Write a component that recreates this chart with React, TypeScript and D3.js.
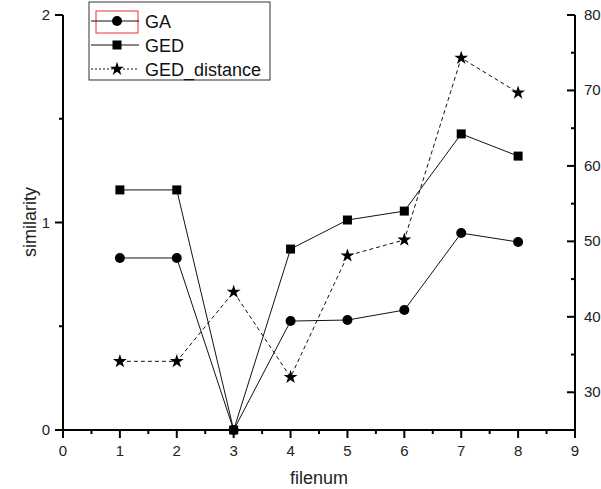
import React from "react";
import * as d3 from "d3";

const fileNums = [1, 2, 3, 4, 5, 6, 7, 8];
const gaValues = [0.829, 0.829, 0, 0.525, 0.53, 0.578, 0.949, 0.906];
const gedValues = [1.157, 1.157, 0, 0.872, 1.012, 1.055, 1.427, 1.32];
const gedDistanceValues = [34.1, 34.1, 43.3, 32.0, 48.1, 50.2, 74.3, 69.7];
const xTicks = [0, 1, 2, 3, 4, 5, 6, 7, 8, 9];
const leftTicks = [0, 1, 2];
const rightTicks = [30, 40, 50, 60, 70, 80];
const legendLabels = ["GA", "GED", "GED_distance"];

const W = 601;
const H = 489;
const FONT = "Arial, 'Liberation Sans', sans-serif";

export default function App() {
  const x = d3.scaleLinear().domain([0, 9]).range([63, 575]);
  const yL = d3.scaleLinear().domain([0, 2]).range([430, 15]);
  const yR = d3.scaleLinear().domain([25, 80]).range([430, 15]);

  const lineL = d3
    .line<number>()
    .x((_, i) => x(fileNums[i]))
    .y((d) => yL(d));
  const lineR = d3
    .line<number>()
    .x((_, i) => x(fileNums[i]))
    .y((d) => yR(d));

  const starPath = d3.symbol().type(d3.symbolStar).size(60)() as string;
  const xMinor = d3.range(0.5, 9, 1);
  const leftMinor = [0.5, 1.5];
  const rightMinor = [35, 45, 55, 65, 75];

  const circle = (cx: number, cy: number, k: string) => (
    <circle key={k} cx={cx} cy={cy} r={5} fill="#000" />
  );
  const square = (cx: number, cy: number, k: string) => (
    <rect key={k} x={cx - 4.5} y={cy - 4.5} width={9} height={9} fill="#000" />
  );
  const star = (cx: number, cy: number, k: string) => (
    <path key={k} d={starPath} transform={`translate(${cx},${cy})`} fill="#000" />
  );

  const legendRowsY = [21, 45, 69];

  return (
    <div style={{ position: "fixed", left: 0, top: 0 }}>
      <svg width={W} height={H} style={{ display: "block", background: "#fff" }} fontFamily={FONT}>
        <rect x={0} y={0} width={W} height={H} fill="#fff" />
        {/* axes lines */}
        <line x1={63} x2={63} y1={15} y2={430} stroke="#000" strokeWidth={2} />
        <line x1={575} x2={575} y1={15} y2={430} stroke="#000" strokeWidth={2} />
        <line x1={63} x2={575} y1={430} y2={430} stroke="#000" strokeWidth={2} />

        {/* x ticks */}
        {xTicks.map((t) => (
          <g key={"xt" + t}>
            <line x1={x(t)} x2={x(t)} y1={430} y2={438} stroke="#000" strokeWidth={2} />
            <text x={x(t)} y={456} fontSize={15} textAnchor="middle" fill="#222">
              {t}
            </text>
          </g>
        ))}
        {xMinor.map((t) => (
          <line key={"xm" + t} x1={x(t)} x2={x(t)} y1={430} y2={434} stroke="#000" strokeWidth={2} />
        ))}

        {/* left ticks */}
        {leftTicks.map((t) => (
          <g key={"lt" + t}>
            <line x1={55} x2={63} y1={yL(t)} y2={yL(t)} stroke="#000" strokeWidth={2} />
            <text x={50} y={yL(t) + 5} fontSize={15} textAnchor="end" fill="#222">
              {t}
            </text>
          </g>
        ))}
        {leftMinor.map((t) => (
          <line key={"lm" + t} x1={59} x2={63} y1={yL(t)} y2={yL(t)} stroke="#000" strokeWidth={2} />
        ))}

        {/* right ticks */}
        {rightTicks.map((t) => (
          <g key={"rt" + t}>
            <line x1={567} x2={575} y1={yR(t)} y2={yR(t)} stroke="#000" strokeWidth={2} />
            <text x={584} y={yR(t) + 5} fontSize={15} textAnchor="start" fill="#222">
              {t}
            </text>
          </g>
        ))}
        {rightMinor.map((t) => (
          <line key={"rm" + t} x1={571} x2={575} y1={yR(t)} y2={yR(t)} stroke="#000" strokeWidth={2} />
        ))}

        {/* axis titles */}
        <text x={319} y={484} fontSize={18} textAnchor="middle" fill="#222">
          filenum
        </text>
        <text
          transform={`translate(36,222) rotate(-90)`}
          fontSize={18}
          textAnchor="middle"
          fill="#222"
        >
          similarity
        </text>

        {/* series lines */}
        <path d={lineL(gaValues) as string} fill="none" stroke="#111" strokeWidth={1} />
        <path d={lineL(gedValues) as string} fill="none" stroke="#111" strokeWidth={1} />
        <path
          d={lineR(gedDistanceValues) as string}
          fill="none"
          stroke="#111"
          strokeWidth={1}
          strokeDasharray="4,3"
        />

        {/* markers */}
        {gaValues.map((v, i) => circle(x(fileNums[i]), yL(v), "ga" + i))}
        {gedValues.map((v, i) => square(x(fileNums[i]), yL(v), "ged" + i))}
        {gedDistanceValues.map((v, i) => star(x(fileNums[i]), yR(v), "gd" + i))}

        {/* legend */}
        <rect x={89} y={2} width={181} height={78} fill="#fff" stroke="#333" strokeWidth={1} />
        <rect x={96} y={11} width={42} height={22} fill="none" stroke="#e33" strokeWidth={1} />
        {legendLabels.map((lab, i) => {
          const ly = legendRowsY[i];
          return (
            <g key={"lg" + i}>
              <line
                x1={91}
                x2={139}
                y1={ly}
                y2={ly}
                stroke="#111"
                strokeWidth={1}
                strokeDasharray={i === 2 ? "2,2" : undefined}
              />
              {i === 0 && circle(117, ly, "lgc")}
              {i === 1 && square(117, ly, "lgs")}
              {i === 2 && star(117, ly, "lgst")}
              <text x={145} y={ly + 7} fontSize={18} fill="#111">
                {lab}
              </text>
            </g>
          );
        })}
      </svg>
    </div>
  );
}
